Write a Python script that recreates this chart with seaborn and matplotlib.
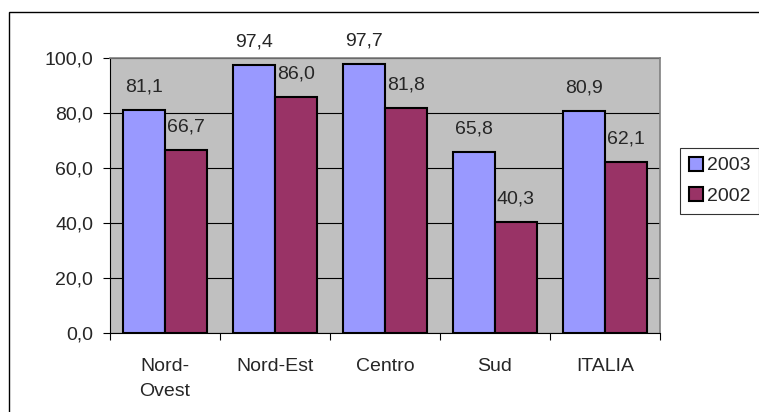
import pandas as pd
import matplotlib.pyplot as plt
import seaborn as sns
from matplotlib.patches import Rectangle
from matplotlib.ticker import FuncFormatter, FixedLocator

# data
areas = ["Nord-\nOvest", "Nord-Est", "Centro", "Sud", "ITALIA"]
years = ["2003", "2002"]
vals_2003 = [81.1, 97.4, 97.7, 65.8, 80.9]
vals_2002 = [66.7, 86.0, 81.8, 40.3, 62.1]

df = pd.DataFrame({
    "area": areas * 2,
    "year": ["2003"] * len(areas) + ["2002"] * len(areas),
    "value": vals_2003 + vals_2002,
})

palette = {"2003": "#9999FF", "2002": "#993366"}
fs = 14

sns.set_style("white")
plt.rcParams["font.family"] = ["Liberation Sans", "DejaVu Sans"]
plt.rcParams["font.size"] = fs

fig = plt.figure(figsize=(7.59, 4.12), dpi=100)
W, H = 759, 412
ax = fig.add_axes([110 / W, 1 - 333 / H, 550 / W, 275 / H])

sns.barplot(data=df, x="area", y="value", hue="year", hue_order=years,
            palette=palette, width=0.755, gap=0, edgecolor="black",
            linewidth=1.5, saturation=1, ax=ax, legend=True)

ax.set_facecolor("#C0C0C0")
ax.set_ylim(0, 100)
ax.set_xlim(-0.5, len(areas) - 0.5)
ax.set_yticks([0, 20, 40, 60, 80, 100])
ax.yaxis.set_major_formatter(FuncFormatter(lambda v, p: f"{v:.1f}".replace(".", ",")))
ax.set_axisbelow(True)
ax.yaxis.grid(True, color="black", linewidth=0.8)
ax.xaxis.grid(False)

# category ticks on boundaries, labels at centres
ax.xaxis.set_major_locator(FixedLocator([i - 0.5 for i in range(len(areas) + 1)]))
ax.xaxis.set_minor_locator(FixedLocator(list(range(len(areas)))))
ax.set_xticklabels([""] * (len(areas) + 1))
ax.set_xticklabels(areas, minor=True, linespacing=1.6, va="top")
ax.tick_params(axis="x", which="major", length=5, width=0.8, color="black", direction="out", bottom=True)
ax.tick_params(axis="x", which="minor", length=0, pad=18, labelsize=fs)
ax.tick_params(axis="y", length=5, width=0.8, color="black", direction="out", left=True, pad=7, labelsize=fs)
ax.set_xlabel("")
ax.set_ylabel("")

for side in ["left", "bottom"]:
    ax.spines[side].set_color("black")
    ax.spines[side].set_linewidth(0.8)
for side in ["top", "right"]:
    ax.spines[side].set_color("#808080")
    ax.spines[side].set_linewidth(1.2)

# value labels
for cont, vals in zip(ax.containers, [vals_2003, vals_2002]):
    for bar, v in zip(cont, vals):
        ax.annotate(f"{v:.1f}".replace(".", ","),
                    (bar.get_x() + bar.get_width() / 2, bar.get_height()),
                    xytext=(0, 16.5), textcoords="offset points",
                    ha="center", va="center", fontsize=fs, clip_on=False)

leg = ax.legend(loc="upper left", bbox_to_anchor=(680 / W, 1 - 148 / H),
                bbox_transform=fig.transFigure, frameon=True, fancybox=False,
                edgecolor="black", fontsize=fs, handlelength=0.72, handleheight=0.72,
                handletextpad=0.2, labelspacing=0.65, borderpad=0.45, borderaxespad=0)
leg.get_frame().set_linewidth(0.8)
for h in leg.legend_handles:
    h.set_edgecolor("black")
    h.set_linewidth(1.5)

# outer chart border (cropped on right/bottom in the reference)
fig.patches.append(Rectangle((9 / W, -0.1), 1.2, 1 - 12 / H + 0.1,
                             transform=fig.transFigure, fill=False,
                             edgecolor="black", linewidth=1.0))

fig.savefig("out.png", dpi=100)
